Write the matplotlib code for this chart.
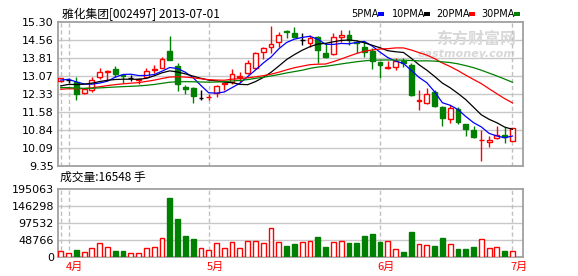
import matplotlib
matplotlib.use('Agg')
import matplotlib.pyplot as plt
import numpy as np
import pandas as pd
from matplotlib.patches import Rectangle

# ---------------- data ----------------
title = "雅化集团[002497] 2013-07-01"
month_labels = ["4月", "5月", "6月", "7月"]
month_idx = [1, 19, 41, 58]
extra_vline_idx = [0]

pre_closes = [12.95, 12.90, 12.85, 12.80, 12.78, 12.70, 12.65, 12.60, 12.55, 12.52,
              12.45, 12.40, 12.35, 12.30, 12.28, 12.32, 12.38, 12.42, 12.45, 12.45,
              12.30, 12.35, 12.40, 12.50, 12.55, 12.75, 12.85, 12.95, 12.97]

opens = [12.85, 12.90, 12.83, 12.35, 12.50, 13.04, 13.25, 13.36, 13.10, 12.97,
         12.92, 13.04, 13.33, 13.41, 14.10, 13.48, 12.63, 12.56, 12.16, 12.19,
         12.35, 12.72, 12.82, 13.02, 13.18, 13.39, 14.05, 14.28, 14.49, 14.93,
         14.86, 14.56, 14.42, 14.67, 14.03, 13.97, 14.67, 14.76, 14.46, 14.26,
         14.11, 13.63, 13.39, 13.46, 13.70, 13.52, 12.03, 11.97, 12.42, 11.78,
         11.29, 11.69, 11.09, 10.84, 10.41, 10.33, 10.49, 10.63, 10.40]
highs = [13.00, 12.98, 13.02, 12.57, 13.04, 13.41, 13.31, 13.47, 13.15, 13.12,
         13.00, 13.39, 13.52, 13.87, 14.72, 13.59, 12.70, 12.63, 12.49, 12.33,
         12.70, 12.80, 13.35, 13.25, 13.73, 14.07, 14.28, 15.13, 14.90, 14.97,
         15.11, 14.86, 14.76, 14.72, 14.42, 14.83, 14.97, 14.97, 14.56, 14.49,
         14.21, 13.66, 13.70, 13.80, 13.80, 13.59, 12.49, 12.56, 12.49, 11.83,
         11.87, 11.78, 11.09, 11.00, 10.84, 10.59, 11.00, 10.95, 10.92]
lows = [12.84, 12.80, 12.08, 12.33, 12.41, 12.93, 12.87, 13.04, 12.79, 12.86,
        12.72, 13.02, 13.18, 13.38, 13.72, 12.46, 12.33, 11.94, 12.06, 12.08,
        12.19, 12.50, 12.74, 12.83, 13.15, 13.35, 13.76, 14.03, 14.25, 14.62,
        14.68, 14.35, 14.28, 13.62, 13.81, 13.95, 14.49, 14.35, 14.01, 13.87,
        13.35, 12.97, 13.35, 13.31, 13.45, 12.24, 11.65, 11.91, 11.78, 11.00,
        11.14, 11.09, 10.59, 10.49, 9.57, 10.15, 10.45, 10.29, 10.39]
closes = [12.98, 12.90, 12.33, 12.52, 12.92, 13.22, 13.28, 13.17, 13.07, 12.97,
          12.95, 13.29, 13.37, 13.76, 13.73, 12.74, 12.52, 12.24, 12.16, 12.22,
          12.66, 12.76, 13.15, 13.06, 13.59, 14.01, 14.21, 14.39, 14.76, 14.90,
          14.70, 14.56, 14.63, 14.14, 13.87, 14.67, 14.76, 14.56, 14.42, 14.07,
          13.70, 13.52, 13.43, 13.70, 13.59, 12.28, 12.06, 12.33, 11.83, 11.32,
          11.76, 11.18, 10.89, 10.56, 10.43, 10.43, 10.63, 10.54, 10.91]
volumes = [17200, 12400, 20000, 14300, 24900, 39200, 27700, 17200, 17200, 10500,
           10500, 24900, 27700, 53500, 168300, 108000, 60200, 51600, 24900, 20000,
           39200, 24900, 44000, 24900, 46800, 45400, 39200, 82200, 42100, 31600,
           37300, 43000, 45900, 57400, 28700, 44000, 45900, 40200, 40200, 60200,
           66000, 43000, 45900, 22100, 14300, 71700, 36300, 33500, 31600, 54500,
           36300, 22900, 22900, 28700, 50700, 24900, 27700, 17200, 16548]

price_ticks = [9.35, 10.09, 10.84, 11.58, 12.33, 13.07, 13.81, 14.56, 15.30]
price_labels = ["9.35", "10.09", "10.84", "11.58", "12.33", "13.07", "13.81", "14.56", "15.30"]
vol_ticks = [0, 48766, 97532, 146298, 195063]
vol_labels = ["0", "48766", "97532", "146298", "195063"]
ma_periods = [5, 10, 20, 30]
ma_names = ["5PMA", "10PMA", "20PMA", "30PMA"]
ma_colors = ["#0000FF", "#000000", "#FF0000", "#008000"]

# ---------------- styling ----------------
RED = "#FF0000"
GREEN = "#008000"
GRID = "#C8C8C8"
FRAME = "#A0A0A0"
CJK = ["Noto Sans CJK SC", "DejaVu Sans"]

W, H = 578, 276
fig = plt.figure(figsize=(W / 100, H / 100), dpi=100)
fig.patch.set_facecolor("white")


def rect(l, t, r, b):
    return [l / W, 1 - b / H, (r - l) / W, (b - t) / H]


axp = fig.add_axes(rect(58, 22, 523, 166))
axv = fig.add_axes(rect(58, 189, 523, 257))

n = len(closes)
x = np.arange(n)
o = np.array(opens); h = np.array(highs); l = np.array(lows); c = np.array(closes)
bw = 0.62

for ax in (axp, axv):
    ax.set_xlim(-0.35, n - 1 + 1.35)
    for s in ax.spines.values():
        s.set_color(FRAME)
        s.set_linewidth(1.3)
    ax.set_xticks([])
    ax.tick_params(axis="y", length=0, pad=3, labelsize=8)
    for vi in extra_vline_idx + month_idx:
        ax.axvline(vi, color="#C0C0C0", lw=1, ls=(0, (3, 2)), zorder=1)

# price panel
axp.set_ylim(price_ticks[0], price_ticks[-1])
axp.set_yticks(price_ticks)
axp.set_yticklabels(price_labels)
for t in price_ticks[1:-1]:
    axp.axhline(t, color=GRID, lw=1, zorder=0.5)

up = c > o
down = c < o
flat = c == o
wick_colors = np.where(up, RED, np.where(down, GREEN, "#000000"))
axp.vlines(x, l, h, colors=wick_colors, lw=1, zorder=2)
body_h = np.maximum(np.abs(c - o), 0.025)
body_b = np.minimum(o, c)
axp.bar(x[up], body_h[up], bottom=body_b[up], width=bw, facecolor="white",
        edgecolor=RED, linewidth=1, zorder=3)
axp.bar(x[down], body_h[down], bottom=body_b[down], width=bw, facecolor=GREEN,
        edgecolor=GREEN, linewidth=1, zorder=3)
axp.hlines(o[flat], x[flat] - bw / 2, x[flat] + bw / 2, colors="#000000", lw=1, zorder=3)

allc = pd.Series(pre_closes + closes)
for p, col in zip(ma_periods, ma_colors):
    ma = allc.rolling(p).mean().values[-n:]
    axp.plot(x, ma, color=col, lw=0.9, zorder=4)

# watermark
axp.text(0.985, 0.885, "东方财富网", transform=axp.transAxes, ha="right", va="center",
         fontsize=11.5, color="#D8D8D8", fontweight="bold", family=CJK, zorder=0.8)
axp.text(0.985, 0.775, "eastmoney.com", transform=axp.transAxes, ha="right", va="center",
         fontsize=8, color="#D8D8D8", fontweight="bold", style="italic", zorder=0.8)

# volume panel
axv.set_ylim(vol_ticks[0], vol_ticks[-1])
axv.set_yticks(vol_ticks)
axv.set_yticklabels(vol_labels)
for t in vol_ticks[1:-1]:
    axv.axhline(t, color=GRID, lw=1, zorder=0.5)
v = np.array(volumes)
vup = c >= o
axv.bar(x[vup], v[vup], width=bw, facecolor="white", edgecolor=RED, linewidth=1, zorder=3)
axv.bar(x[~vup], v[~vup], width=bw, facecolor=GREEN, edgecolor=GREEN, linewidth=1, zorder=3)

for lab, mi in zip(month_labels, month_idx):
    axv.text(mi + 0.8, -0.15, lab, transform=axv.get_xaxis_transform(), ha="center",
             va="center", color=RED, fontsize=8, family=CJK)

# texts
fig.text(62 / W, 1 - 14 / H, title, ha="left", va="center", fontsize=8.5, family=CJK)
fig.text(60 / W, 1 - 177 / H, f"成交量:{volumes[-1]} 手", ha="left", va="center",
         fontsize=8.5, family=CJK)

leg_x = [351, 392, 436, 481]
dash_x = [378, 424, 469, 514]
for name, col, lx, dx in zip(ma_names, ma_colors, leg_x, dash_x):
    fig.text(lx / W, 1 - 14 / H, name, ha="left", va="center", fontsize=7)
    fig.add_artist(Rectangle((dx / W, 1 - 15.5 / H), 6 / W, 3 / H, transform=fig.transFigure,
                             facecolor=col, edgecolor="none"))

fig.savefig("out.png", dpi=100)
